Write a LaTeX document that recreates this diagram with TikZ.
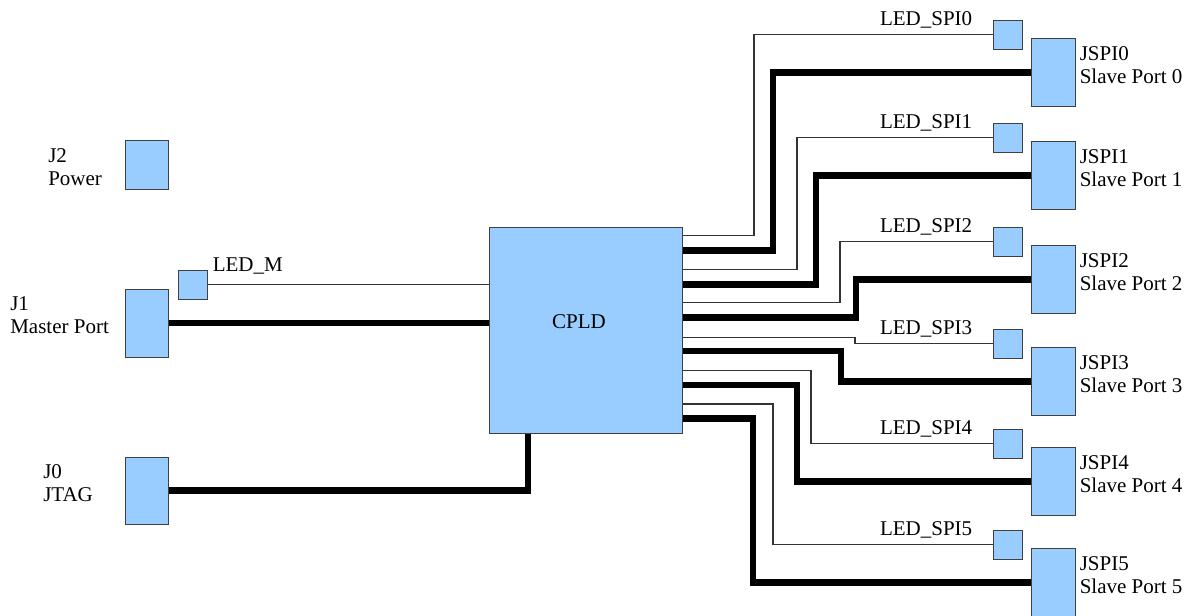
\documentclass[tikz,border=0pt]{standalone}
\usepackage{fontspec}
\setmainfont{Liberation Serif}
\newfontfamily\boardfont{Liberation Serif}
\usetikzlibrary{calc, positioning, backgrounds}
\definecolor{padblue}{HTML}{99CCFF}
\definecolor{padedge}{HTML}{404040}

\begin{document}
\begin{tikzpicture}[
  x=0.75pt, y=-0.75pt,
  font=\boardfont\fontsize{15.75}{17.25}\selectfont,
  part/.style={draw=padedge, line width=0.75pt, fill=padblue, inner sep=0pt},
  sig/.style={draw=black!80, line width=0.8pt},
  bus/.style={draw=black, line width=5pt},
  tag/.style={inner sep=0pt, align=left, anchor=base west}
]
  \useasboundingbox (0,0) rectangle (1193,615);

  % headers on the left
  \node[part, minimum width=32.25pt, minimum height=36.75pt] (j2) at (146.5,164.5) {};
  \node[part, minimum width=32.25pt, minimum height=51pt] (j1) at (146.5,323) {};
  \node[part, minimum width=32.25pt, minimum height=50.25pt] (j0) at (146.5,490.5) {};
  \node[part, minimum size=21.75pt] (ledm) at (192.5,284.5) {};
  \node[tag] (j2name) at (48,185) {J2\\Power};
  \node[tag] (j1name) at (10,333) {J1\\Master Port};
  \node[tag] (j0name) at (43,501) {J0\\JTAG};
  \node[tag] (ledmname) at ($(ledm.north east)+(5,2)$) {LED\_M};

  % the CPLD
  \node[part, minimum width=144.75pt, minimum height=154.5pt] (cpld) at (585.5,330) {};
  \node (cpldname) at ($(cpld.center)+(-6.5,-8)$) {CPLD};

  % slave ports and their LEDs
  \foreach \k/\jy in {0/72.5, 1/175.5, 2/279.5, 3/381.5, 4/481.5, 5/582.5} {
    \node[part, minimum width=33pt, minimum height=51pt] (jspi\k) at (1053,\jy) {};
    \node[part, minimum size=21.75pt] (led\k) at (1007.5,\jy-38) {};
    \node[tag] (jspiname\k) at ($(jspi\k.north east)+(4,45)$) {JSPI\k\\Slave Port \k};
    \node[inner sep=0pt, anchor=base east] (ledname\k) at ($(led\k.west)+(-20,-9)$) {LED\_SPI\k};
  }

  \begin{scope}[on background layer]
    \draw[sig] (ledm.east) -- (cpld.west |- ledm.east);
    \draw[bus] (j1.east) -- (cpld.west |- j1.east);
    \draw[bus] (j0.east) -| (cpld.south -| 528,0);
    % pin row, turn x (thin), pin row, turn x (thick)
    \foreach \k/\tp/\tx/\bp/\bx in {0/235.7/754/250.7/773, 1/269.3/797/284.3/816,
        2/302.7/840/317.7/856, 3/337.3/855/351/841,
        4/370.7/811/385/797, 5/404/773/418.3/753} {
      \draw[sig] (cpld.east |- 0,\tp) -- (\tx,\tp) |- (led\k.west);
      \draw[bus] (cpld.east |- 0,\bp) -- (\bx,\bp) |- (jspi\k.west);
    }
  \end{scope}
\end{tikzpicture}
\end{document}
